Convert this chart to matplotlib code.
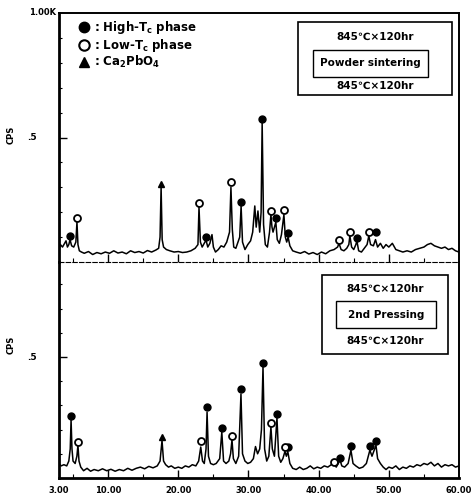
import matplotlib
matplotlib.use("Agg")
import matplotlib.pyplot as plt
from matplotlib.patches import Rectangle

# ==================================================
# Datos (2theta en grados, intensidad en K cps)
# ==================================================
top_tt = [3.0, 3.2, 3.5, 3.8, 4.0, 4.2, 4.4, 4.57, 4.8, 5.1, 5.4, 5.56, 5.7, 5.9, 6.2,
          6.6, 7.2, 7.8, 8.4, 9.0, 9.6, 10.2, 10.8, 11.4, 12.0, 12.6, 13.2, 13.8, 14.4,
          15.0, 15.6, 16.2, 16.8, 17.2, 17.4, 17.55, 17.7, 17.9, 18.3, 18.8, 19.4, 20.0,
          20.6, 21.2, 21.8, 22.4, 22.8, 22.95, 23.15, 23.4, 23.7, 23.95, 24.2, 24.5,
          24.8, 25.0, 25.3, 25.7, 26.1, 26.5, 26.9, 27.3, 27.5, 27.7, 27.9, 28.2, 28.5,
          28.75, 28.95, 29.15, 29.5, 29.9, 30.3, 30.6, 30.9, 31.1, 31.35, 31.6, 31.8,
          31.95, 32.15, 32.4, 32.7, 33.0, 33.2, 33.35, 33.5, 33.9, 34.1, 34.4, 34.7,
          35.05, 35.25, 35.45, 35.65, 35.9, 36.3, 36.8, 37.4, 38.0, 38.6, 39.2, 39.8,
          40.4, 41.0, 41.6, 42.2, 42.7, 42.9, 43.2, 43.6, 44.0, 44.3, 44.45, 44.7, 45.0,
          45.3, 45.45, 45.7, 46.1, 46.5, 46.9, 47.15, 47.4, 47.8, 48.1, 48.4, 48.8, 49.2,
          49.6, 50.0, 50.5, 51.0, 51.5, 52.0, 52.6, 53.2, 53.8, 54.4, 55.0, 55.5, 56.0,
          56.5, 57.0, 57.5, 58.0, 58.5, 59.0, 59.5, 60.0]
top_cps = [0.05, 0.07, 0.06, 0.075, 0.085, 0.06, 0.07, 0.09, 0.065, 0.06, 0.08, 0.16, 0.07, 0.045, 0.04,
           0.035, 0.042, 0.03, 0.038, 0.033, 0.04, 0.035, 0.045, 0.036, 0.04, 0.033, 0.045, 0.038, 0.042,
           0.036, 0.046, 0.04, 0.048, 0.055, 0.1, 0.3, 0.09, 0.06, 0.05, 0.045, 0.04, 0.042,
           0.038, 0.04, 0.045, 0.055, 0.07, 0.22, 0.08, 0.06, 0.075, 0.088, 0.06, 0.075,
           0.11, 0.06, 0.04, 0.05, 0.065, 0.06, 0.08, 0.12, 0.30, 0.13, 0.06, 0.055, 0.08,
           0.1, 0.225, 0.08, 0.05, 0.07, 0.085, 0.12, 0.225, 0.14, 0.205, 0.12, 0.2,
           0.56, 0.15, 0.07, 0.06, 0.12, 0.19, 0.14, 0.12, 0.16, 0.09, 0.075, 0.11,
           0.19, 0.1, 0.08, 0.1, 0.065, 0.045, 0.04, 0.035, 0.042, 0.032, 0.038, 0.03,
           0.04, 0.033, 0.045, 0.05, 0.06, 0.075, 0.05, 0.045, 0.055, 0.07, 0.105, 0.06, 0.05,
           0.07, 0.085, 0.045, 0.04, 0.055, 0.07, 0.105, 0.07, 0.065, 0.09, 0.06, 0.075, 0.055,
           0.07, 0.06, 0.075, 0.05, 0.045, 0.04, 0.045, 0.04, 0.05, 0.055, 0.06, 0.07, 0.075,
           0.065, 0.06, 0.055, 0.06, 0.05, 0.055, 0.045, 0.04]

bot_tt = [3.0, 3.3, 3.7, 4.1, 4.4, 4.6, 4.72, 4.85, 5.0, 5.3, 5.55, 5.7, 5.85, 6.1, 6.5,
          7.0, 7.5, 8.0, 8.6, 9.2, 9.8, 10.4, 11.0, 11.6, 12.2, 12.8, 13.4, 14.0, 14.6,
          15.2, 15.8, 16.4, 17.0, 17.4, 17.68, 17.9, 18.2, 18.6, 19.0, 19.5, 20.0, 20.5,
          21.0, 21.5, 22.0, 22.5, 22.9, 23.2, 23.45, 23.7, 23.95, 24.1, 24.3, 24.6, 25.0,
          25.4, 25.9, 26.2, 26.45, 26.8, 27.2, 27.45, 27.65, 27.85, 28.2, 28.6, 28.93,
          29.15, 29.5, 29.9, 30.3, 30.7, 31.0, 31.3, 31.6, 31.85, 32.07, 32.3, 32.6, 32.9,
          33.2, 33.4, 33.7, 34.06, 34.3, 34.6, 34.9, 35.2, 35.4, 35.6, 35.9, 36.3, 36.8,
          37.3, 37.8, 38.3, 38.8, 39.3, 39.8, 40.3, 40.8, 41.3, 41.8, 42.2, 42.5, 42.8,
          43.04, 43.3, 43.7, 44.2, 44.6, 44.9, 45.3, 45.8, 46.3, 46.8, 47.3, 47.6, 48.17,
          48.4, 48.8, 49.2, 49.6, 50.0, 50.5, 51.0, 51.5, 52.0, 52.5, 53.0, 53.5, 54.0,
          54.5, 55.0, 55.5, 56.0, 56.5, 57.0, 57.5, 58.0, 58.5, 59.0, 59.5, 60.0]
bot_cps = [0.06, 0.05, 0.055, 0.05, 0.07, 0.12, 0.24, 0.12, 0.07, 0.06, 0.09, 0.135, 0.07, 0.045, 0.03,
           0.04, 0.028, 0.035, 0.03, 0.038, 0.03, 0.036, 0.028, 0.035, 0.03, 0.04, 0.032, 0.04, 0.045,
           0.038, 0.048, 0.042, 0.05, 0.07, 0.155, 0.07, 0.055, 0.045, 0.05, 0.04, 0.045, 0.04,
           0.05, 0.045, 0.055, 0.05, 0.07, 0.128, 0.07, 0.06, 0.12, 0.272, 0.09, 0.06, 0.055,
           0.06, 0.08, 0.19, 0.07, 0.06, 0.07, 0.1, 0.157, 0.08, 0.06, 0.09, 0.347,
           0.1, 0.07, 0.06, 0.065, 0.08, 0.13, 0.1, 0.12, 0.2, 0.459, 0.12, 0.07, 0.09,
           0.21, 0.12, 0.09, 0.248, 0.09, 0.065, 0.08, 0.11, 0.09, 0.11, 0.06, 0.04, 0.035,
           0.045, 0.035, 0.04, 0.05, 0.038, 0.045, 0.04, 0.05, 0.045, 0.055, 0.065, 0.045, 0.06,
           0.075, 0.05, 0.045, 0.06, 0.115, 0.06, 0.05, 0.04, 0.045, 0.06, 0.115, 0.09, 0.135,
           0.08, 0.06, 0.045, 0.035, 0.045, 0.04, 0.05, 0.035, 0.045, 0.04, 0.05, 0.045, 0.055,
           0.05, 0.06, 0.055, 0.065, 0.05, 0.06, 0.045, 0.055, 0.05, 0.055, 0.045, 0.05]

# marcas de fases: panel superior
top_high_tt = [4.57, 23.95, 28.93, 31.95, 33.9, 35.63, 45.46, 48.17]
top_high_cps = [0.104, 0.10, 0.241, 0.574, 0.177, 0.116, 0.096, 0.12]
top_low_tt = [5.56, 22.95, 27.5, 33.2, 35.06, 42.9, 44.46, 47.17]
top_low_cps = [0.177, 0.237, 0.321, 0.205, 0.209, 0.088, 0.12, 0.12]
top_ca_tt = [17.55]
top_ca_cps = [0.315]

# marcas de fases: panel inferior
bot_high_tt = [4.72, 24.1, 26.2, 28.93, 32.07, 34.06, 35.6, 43.04, 44.6, 47.3, 48.17]
bot_high_cps = [0.256, 0.293, 0.207, 0.368, 0.475, 0.264, 0.128, 0.083, 0.132, 0.132, 0.153]
bot_low_tt = [5.7, 23.2, 27.65, 33.2, 35.2, 42.2]
bot_low_cps = [0.149, 0.153, 0.174, 0.227, 0.128, 0.066]
bot_ca_tt = [17.68]
bot_ca_cps = [0.17]

xticks = [10, 20, 30, 40, 50]
xlabels = ["3.00", "10.00", "20.00", "30.00", "40.00", "50.00", "60.00"]
xlabel_pos = [3, 10, 20, 30, 40, 50, 60]

plt.rcParams['font.family'] = ['DejaVu Sans']
plt.rcParams['font.weight'] = 'bold'

W, H = 472, 499
def fx(x):
    return x / W
def fy(y):
    return 1 - y / H

fig = plt.figure(figsize=(4.72, 4.99), dpi=100)
ax1 = fig.add_axes([fx(59), fy(262), 400 / W, 249 / H])
ax2 = fig.add_axes([fx(59), fy(478), 400 / W, 216 / H])

for ax in (ax1, ax2):
    ax.set_xlim(3, 60)
    ax.set_xticks(xticks)
    ax.set_xticks([5, 15, 25, 35, 45, 55], minor=True)
    ax.tick_params(axis='x', which='both', direction='in', labelbottom=False, color='black')
    ax.tick_params(axis='x', which='major', length=6, width=1)
    ax.tick_params(axis='x', which='minor', length=3, width=0.8)
    ax.set_yticks([0.5])
    ax.set_yticks([0.1, 0.2, 0.3, 0.4, 0.6, 0.7, 0.8, 0.9], minor=True)
    ax.tick_params(axis='y', which='major', direction='in', length=6, width=1, labelleft=False)
    ax.tick_params(axis='y', which='minor', direction='in', length=2, width=0.8)
    ax.spines['left'].set_linewidth(2.0)
    ax.spines['right'].set_linewidth(1.4)
    ax.patch.set_alpha(0)

ax1.set_ylim(0, 1.0)
ax2.set_ylim(0, 216 / 242)
ax1.spines['top'].set_linewidth(1.4)
ax1.spines['bottom'].set_linewidth(0.8)
ax1.spines['bottom'].set_linestyle((0, (4, 2)))
ax2.spines['top'].set_visible(False)
ax2.spines['bottom'].set_linewidth(2.0)

# trazas
ax1.plot(top_tt, top_cps, color='black', lw=1.1)
ax2.plot(bot_tt, bot_cps, color='black', lw=1.1)

# marcas
ax1.plot(top_high_tt, top_high_cps, 'o', color='black', ms=5, ls='none')
ax1.plot(top_low_tt, top_low_cps, 'o', mfc='white', mec='black', mew=1.3, ms=5, ls='none')
ax1.plot(top_ca_tt, top_ca_cps, '^', color='black', ms=5, ls='none')
ax2.plot(bot_high_tt, bot_high_cps, 'o', color='black', ms=5, ls='none')
ax2.plot(bot_low_tt, bot_low_cps, 'o', mfc='white', mec='black', mew=1.3, ms=5, ls='none')
ax2.plot(bot_ca_tt, bot_ca_cps, '^', color='black', ms=5, ls='none')

# etiquetas del eje x
for pos, lab in zip(xlabel_pos, xlabels):
    ax2.text(pos, -0.035, lab, transform=ax2.get_xaxis_transform(), ha='center', va='top',
             fontsize=6, fontweight='bold')

# etiquetas del eje y
ax1.text(-0.055, 0.5, ".5", transform=ax1.get_yaxis_transform(), ha='right', va='center', fontsize=6.5)
ax1.text(-0.008, 1.0, "1.00K", transform=ax1.get_yaxis_transform(), ha='right', va='center', fontsize=6)
ax1.text(-0.12, 0.51, "CPS", transform=ax1.get_yaxis_transform(), ha='center', va='center',
         rotation=90, fontsize=6)
ax2.text(-0.055, 0.5, ".5", transform=ax2.get_yaxis_transform(), ha='right', va='center', fontsize=6.5)
ax2.text(-0.12, 0.55, "CPS", transform=ax2.get_yaxis_transform(), ha='center', va='center',
         rotation=90, fontsize=6)

# leyenda
fig.lines.append(plt.Line2D([fx(84)], [fy(27)], marker='o', color='black', ms=7.5, ls='none',
                            transform=fig.transFigure))
fig.lines.append(plt.Line2D([fx(84)], [fy(45)], marker='o', mfc='white', mec='black', mew=1.5, ms=7.5,
                            ls='none', transform=fig.transFigure))
fig.lines.append(plt.Line2D([fx(84)], [fy(62)], marker='^', color='black', ms=6.5, ls='none',
                            transform=fig.transFigure))
fig.text(fx(94), fy(27), r": High-T$_\mathbf{c}$ phase", ha='left', va='center', fontsize=8.5)
fig.text(fx(94), fy(45), r": Low-T$_\mathbf{c}$ phase", ha='left', va='center', fontsize=8.5)
fig.text(fx(94), fy(62), r": Ca$_\mathbf{2}$PbO$_\mathbf{4}$", ha='left', va='center', fontsize=8.5)

# cajas de condiciones
def caja(x0, y0, x1, y1, lw):
    fig.add_artist(Rectangle((fx(x0), fy(y1)), fx(x1) - fx(x0), fy(y0) - fy(y1), fill=False,
                             lw=lw, ec='black', transform=fig.transFigure))

caja(298, 22, 452, 95, 1.2)
caja(313, 50, 428, 77, 1.0)
fig.text(fx(375), fy(37), "845\u2103\u00d7120hr", ha='center', va='center', fontsize=7.5)
fig.text(fx(370), fy(63), "Powder sintering", ha='center', va='center', fontsize=7.5)
fig.text(fx(375), fy(86), "845\u2103\u00d7120hr", ha='center', va='center', fontsize=7.5)

caja(322, 275, 448, 354, 1.2)
caja(336, 301, 436, 328, 1.0)
fig.text(fx(385), fy(289), "845\u2103\u00d7120hr", ha='center', va='center', fontsize=7.5)
fig.text(fx(386), fy(315), "2nd Pressing", ha='center', va='center', fontsize=7.5)
fig.text(fx(385), fy(341), "845\u2103\u00d7120hr", ha='center', va='center', fontsize=7.5)

plt.savefig("out.png", dpi=100)
